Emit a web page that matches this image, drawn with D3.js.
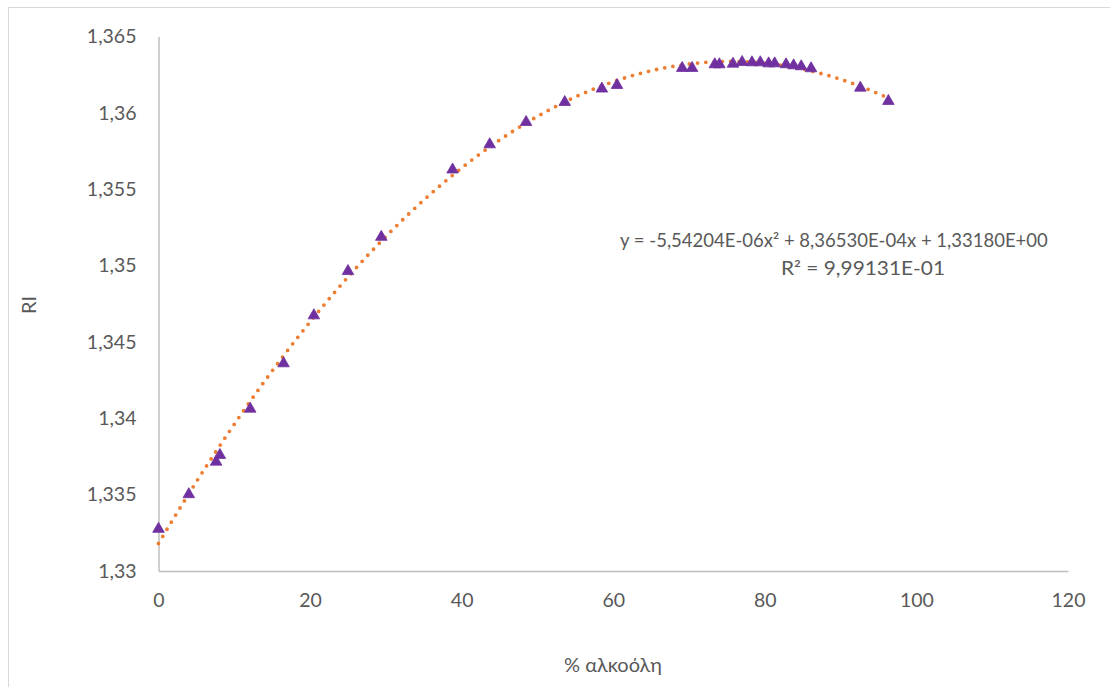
<!DOCTYPE html>
<html>
<head>
<meta charset="utf-8">
<script src="https://cdn.jsdelivr.net/npm/d3@7"></script>
<style>
  body { margin: 0; background: #fff; }
  text { font-family: Lato, "Open Sans", sans-serif; fill: #595959; }
</style>
</head>
<body>
<div id="chart"></div>
<script>
// measured samples: % alcohol vs refractive index
var alcohol = [0, 4.0, 7.6, 8.1, 12.1, 16.5, 20.5, 25.0, 29.4, 38.8, 43.7, 48.5,
  53.6, 58.5, 60.5, 69.1, 70.4, 73.4, 74.0, 75.8, 77.0, 78.3, 79.4, 80.5,
  81.3, 82.8, 83.8, 84.8, 86.1, 92.6, 96.3];
var ri = [1.33275, 1.33502, 1.33715, 1.33759, 1.34062, 1.34359, 1.34673, 1.34963,
  1.35187, 1.35628, 1.35793, 1.35939, 1.36070, 1.36158, 1.36181, 1.36293,
  1.36293, 1.36317, 1.36317, 1.36321, 1.36332, 1.36330, 1.36330, 1.36323,
  1.36323, 1.36317, 1.36310, 1.36304, 1.36291, 1.36164, 1.36077];

// polynomial trendline (order 2), coefficients a, b, c
var fitCoef = [-5.54204e-6, 8.36530e-4, 1.33180];
var fitLabel = "y = -5,54204E-06x² + 8,36530E-04x + 1,33180E+00";
var r2Label = "R² = 9,99131E-01";

var xTicks = [0, 20, 40, 60, 80, 100, 120];
var yTicks = [1.33, 1.335, 1.34, 1.345, 1.35, 1.355, 1.36, 1.365];

var svg_dx = 1110,
  svg_dy = 687;

var x = d3.scaleLinear().domain([0, 120]).range([158.5, 1068]),
  y = d3.scaleLinear().domain([1.33, 1.365]).range([571, 36.5]);

var gr = d3.formatLocale({ decimal: ",", thousands: ".", grouping: [3], currency: ["", ""] });
var fmtY = gr.format(".4~f");

var svg = d3.select("#chart")
  .append("svg")
  .attr("width", svg_dx)
  .attr("height", svg_dy);

svg.append("rect")
  .attr("width", svg_dx)
  .attr("height", svg_dy)
  .attr("fill", "#fff");

// chart area frame, runs off the right and bottom
svg.append("rect")
  .attr("x", 8.5)
  .attr("y", 7.5)
  .attr("width", svg_dx + 20)
  .attr("height", svg_dy + 20)
  .attr("fill", "none")
  .attr("stroke", "#d9d9d9")
  .attr("stroke-width", 1);

var xAxis = d3.axisBottom(x).tickValues(xTicks).tickSize(0).tickPadding(22),
  yAxis = d3.axisLeft(y).tickValues(yTicks).tickSize(0).tickPadding(22).tickFormat(fmtY);

var gx = svg.append("g")
  .attr("class", "axis axis--x")
  .attr("transform", "translate(0," + y(1.33) + ")")
  .call(xAxis);

var gy = svg.append("g")
  .attr("class", "axis axis--y")
  .attr("transform", "translate(" + x(0) + ",0)")
  .call(yAxis);

svg.selectAll(".axis .domain")
  .attr("stroke", "#bfbfbf")
  .attr("stroke-width", 1.5);

svg.selectAll(".axis text")
  .attr("font-size", 19.5)
  .attr("fill", "#595959")
  .attr("font-family", "Lato, 'Open Sans', sans-serif");

// trendline sampled from the fitted polynomial across the data range
var fitX = d3.range(0, d3.max(alcohol) + 0.001, 0.5);
var fitLine = d3.line()
  .x(function(d) { return x(d); })
  .y(function(d) { return y(fitCoef[0] * d * d + fitCoef[1] * d + fitCoef[2]); });

svg.append("path")
  .datum(fitX)
  .attr("d", fitLine)
  .attr("fill", "none")
  .attr("stroke", "#ed7d31")
  .attr("stroke-width", 3.8)
  .attr("stroke-linecap", "round")
  .attr("stroke-dasharray", "0 8.3");

// triangle markers
var tri = d3.symbol().type(d3.symbolTriangle).size(58);
svg.append("g")
  .selectAll("path")
  .data(alcohol)
  .enter()
  .append("path")
  .attr("d", tri)
  .attr("transform", function(d, i) { return "translate(" + x(d) + "," + y(ri[i]) + ")"; })
  .attr("fill", "#7030a0")
  .attr("stroke", "#7030a0")
  .attr("stroke-width", 0.8);

// trendline equation
svg.append("text")
  .attr("x", 620)
  .attr("y", 247)
  .attr("font-size", 18.5)
  .text(fitLabel);

svg.append("text")
  .attr("x", 781)
  .attr("y", 275)
  .attr("font-size", 18.5)
  .attr("textLength", 164)
  .attr("lengthAdjust", "spacingAndGlyphs")
  .text(r2Label);

// axis titles
svg.append("text")
  .attr("transform", "translate(36,305) rotate(-90)")
  .attr("text-anchor", "middle")
  .attr("font-size", 20)
  .text("RI");

svg.append("text")
  .attr("x", 613)
  .attr("y", 672)
  .attr("text-anchor", "middle")
  .attr("font-size", 20)
  .text("% αλκοόλη");
</script>
</body>
</html>
